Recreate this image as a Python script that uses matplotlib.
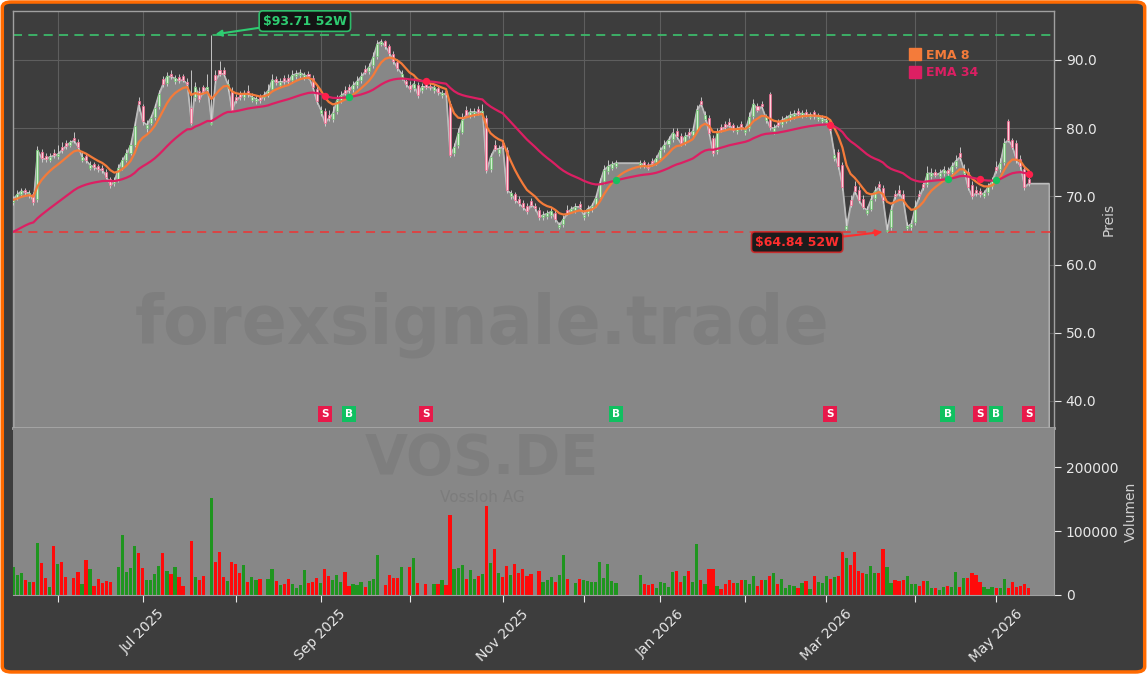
import numpy as np
import matplotlib
matplotlib.use("Agg")
import matplotlib.pyplot as plt
from matplotlib.patches import FancyBboxPatch
from matplotlib.lines import Line2D
from matplotlib.ticker import FuncFormatter, FormatStrFormatter

# ---------------- data (daily bars, trading-day index) ----------------
closes = [
    69.6, 70.3, 70.8, 70.6, 70.5, 69.2, 76.8, 75.6, 75.5, 75.8,
    76.0, 76.2, 76.8, 77.4, 77.9, 78.2, 77.3, 75.8, 75.3, 74.6,
    74.3, 74.0, 73.9, 72.9, 71.7, 72.2, 74.2, 75.3, 76.3, 77.5,
    80.3, 83.5, 81.0, 80.5, 81.5, 83.0, 85.0, 86.5, 87.6, 87.6,
    87.3, 87.0, 87.1, 86.5, 80.8, 86.1, 84.3, 85.5, 86.0, 80.8,
    87.1, 88.0, 88.0, 86.5, 82.7, 84.1, 84.6, 85.1, 85.0, 84.6,
    84.3, 84.1, 84.9, 85.5, 87.1, 86.8, 86.8, 86.9, 86.9, 87.8,
    88.0, 88.1, 87.8, 87.6, 86.1, 84.0, 82.7, 80.8, 81.5, 82.2,
    84.1, 84.8, 85.2, 85.6, 86.3, 86.9, 87.6, 88.3, 89.0, 90.5,
    92.4, 92.7, 92.0, 91.0, 89.8, 88.8, 88.0, 86.5, 85.8, 86.5,
    84.9, 86.1, 86.1, 86.0, 86.0, 85.3, 85.1, 85.0, 76.1, 77.2,
    79.3, 81.2, 82.0, 82.4, 82.4, 82.3, 82.5, 73.8, 75.8, 77.0,
    77.0, 77.3, 70.9, 70.5, 69.5, 69.0, 68.4, 67.8, 68.8, 68.3,
    67.0, 67.3, 67.5, 67.8, 66.7, 65.8, 66.7, 67.6, 68.2, 68.5,
    68.5, 67.3, 68.2, 68.6, 69.8, 72.0, 73.9, 74.4, 74.7, 74.9,
    74.9, 74.9, 74.9, 74.9, 74.9, 74.9, 74.6, 74.2, 74.9, 75.6,
    76.8, 77.6, 78.3, 79.3, 78.8, 77.8, 78.8, 79.0, 79.6, 82.7,
    83.6, 81.9, 79.3, 76.3, 79.3, 79.8, 80.2, 80.5, 79.8, 80.0,
    80.2, 79.8, 81.7, 83.6, 82.7, 83.2, 81.6, 80.2, 80.0, 80.5,
    81.2, 81.5, 81.9, 82.1, 82.1, 82.2, 82.0, 82.0, 81.8, 81.7,
    81.4, 81.2, 79.7, 76.1, 74.4, 71.4, 65.6, 68.8, 70.8, 69.5,
    68.5, 68.0, 69.5, 70.8, 71.4, 69.5, 65.1, 68.0, 70.0, 70.5,
    69.5, 65.6, 66.0, 68.5, 70.0, 71.4, 73.4, 73.4, 73.2, 73.4,
    73.9, 73.4, 74.4, 75.2, 75.8, 73.9, 71.4, 70.0, 70.5, 70.3,
    70.5, 71.4, 72.2, 73.9, 74.9, 77.8, 78.3, 77.3, 75.3, 74.4,
    71.4, 71.9, 71.9, 71.9, 71.9, 71.9, 71.9,
]
opens = [
    69.2, 69.8, 70.3, 70.9, 70.2, 70.3, 69.6, 76.5, 75.9, 75.4,
    76.4, 75.9, 77.3, 77.8, 77.6, 78.5, 78.0, 75.4, 75.9, 74.2,
    74.7, 74.4, 74.2, 73.6, 72.5, 71.9, 72.5, 74.3, 75.4, 76.4,
    77.6, 84.0, 83.3, 80.0, 80.8, 81.6, 83.2, 87.2, 86.6, 88.0,
    86.9, 87.5, 87.6, 86.8, 83.0, 84.5, 85.5, 86.0, 85.7, 80.6,
    87.8, 88.6, 88.5, 85.9, 85.5, 84.5, 85.0, 84.5, 85.4, 84.2,
    84.0, 84.5, 84.6, 84.9, 85.8, 87.2, 86.4, 87.3, 87.3, 87.0,
    87.6, 87.8, 87.4, 88.0, 87.4, 85.8, 82.2, 82.5, 82.0, 81.3,
    82.5, 84.1, 85.6, 86.0, 85.7, 86.3, 87.0, 88.7, 88.4, 89.2,
    90.6, 92.4, 92.8, 92.0, 90.9, 89.7, 87.5, 86.9, 86.4, 85.9,
    86.3, 85.6, 86.5, 86.2, 85.6, 85.9, 84.8, 85.4, 83.5, 76.3,
    77.5, 79.5, 82.6, 81.9, 82.0, 82.8, 82.0, 81.5, 74.0, 77.6,
    76.3, 77.8, 76.8, 70.0, 70.3, 69.6, 69.0, 68.6, 69.3, 68.6,
    68.0, 67.0, 67.1, 67.3, 67.5, 65.5, 65.9, 68.0, 67.9, 68.0,
    68.9, 67.0, 67.5, 68.1, 68.8, 69.9, 72.2, 73.7, 74.2, 74.5,
    74.9, 74.9, 74.9, 74.9, 74.9, 74.6, 75.0, 74.7, 75.2, 75.0,
    75.7, 76.9, 77.7, 78.4, 79.6, 78.9, 77.9, 79.5, 79.0, 79.8,
    84.0, 81.4, 81.5, 78.5, 76.6, 80.2, 80.6, 80.9, 80.4, 79.6,
    80.6, 79.4, 80.0, 81.8, 83.3, 83.5, 81.2, 85.0, 79.6, 80.9,
    80.6, 81.1, 81.5, 81.8, 82.5, 81.9, 82.4, 81.7, 82.3, 81.4,
    81.1, 80.9, 81.0, 75.6, 76.5, 74.6, 65.2, 69.4, 71.5, 71.0,
    69.6, 67.6, 68.2, 69.7, 71.8, 71.2, 64.9, 65.5, 70.4, 71.0,
    70.3, 65.3, 65.5, 66.2, 70.4, 71.8, 71.8, 73.0, 73.6, 73.0,
    73.4, 73.9, 73.6, 74.5, 76.3, 73.5, 73.6, 71.6, 71.0, 70.8,
    70.1, 70.6, 71.5, 74.3, 74.0, 75.0, 81.0, 78.2, 77.8, 75.5,
    74.0, 72.6, 71.9, 71.9, 71.9, 71.9, 71.9,
]
highs = [
    70.1, 70.9, 71.2, 71.3, 70.9, 70.7, 77.4, 77.0, 76.3, 76.4,
    76.9, 77.5, 78.0, 78.2, 78.3, 79.5, 78.4, 76.6, 76.3, 75.2,
    75.0, 74.8, 74.6, 74.0, 72.9, 72.8, 74.8, 75.8, 76.9, 78.3,
    81.0, 84.5, 83.6, 81.2, 82.0, 83.5, 85.6, 87.6, 88.2, 88.5,
    87.8, 87.9, 88.0, 87.3, 88.5, 86.8, 86.0, 86.4, 88.0, 93.71,
    88.5, 89.8, 89.0, 87.2, 86.0, 85.0, 85.5, 85.6, 86.3, 85.1,
    84.8, 85.0, 85.4, 86.5, 88.0, 87.6, 87.4, 87.8, 88.0, 88.6,
    88.5, 88.7, 88.2, 88.4, 87.8, 86.3, 83.2, 82.9, 82.6, 83.2,
    84.8, 85.5, 86.2, 86.5, 86.9, 87.6, 88.2, 89.2, 89.6, 91.2,
    92.9, 93.1, 93.0, 92.4, 91.3, 90.1, 88.5, 87.4, 86.9, 87.4,
    86.8, 86.6, 86.9, 86.6, 86.5, 86.4, 85.6, 85.8, 84.0, 77.8,
    80.0, 82.2, 83.2, 82.9, 83.0, 83.2, 83.5, 82.0, 76.4, 78.2,
    77.6, 78.3, 77.2, 71.0, 70.7, 70.0, 69.4, 69.0, 69.7, 69.0,
    68.4, 67.9, 68.0, 68.5, 68.0, 66.3, 67.3, 68.8, 68.6, 69.0,
    69.3, 67.8, 68.8, 69.1, 70.4, 72.7, 74.6, 75.4, 75.2, 75.3,
    74.9, 74.9, 74.9, 74.9, 74.9, 75.3, 75.4, 75.0, 75.6, 76.0,
    77.2, 78.2, 78.9, 80.0, 80.0, 79.3, 79.4, 80.0, 80.3, 83.4,
    84.5, 82.5, 82.0, 79.0, 80.0, 80.6, 81.0, 81.5, 80.8, 80.5,
    81.0, 80.3, 82.3, 84.3, 83.7, 84.0, 82.1, 85.3, 80.6, 81.3,
    81.8, 82.0, 82.5, 82.6, 82.9, 82.7, 82.8, 82.4, 82.6, 82.2,
    81.9, 81.6, 81.4, 77.0, 77.0, 75.0, 66.8, 70.2, 72.2, 71.5,
    70.2, 68.6, 70.3, 71.5, 72.3, 71.6, 66.0, 68.8, 71.0, 71.6,
    71.0, 66.3, 66.6, 69.4, 70.9, 72.3, 74.4, 74.1, 74.0, 74.0,
    74.4, 74.3, 75.0, 76.0, 77.2, 74.8, 74.2, 72.2, 71.5, 71.3,
    71.0, 72.0, 72.8, 75.2, 75.6, 78.5, 81.3, 78.6, 78.3, 76.0,
    74.5, 73.0, 71.9, 71.9, 71.9, 71.9, 71.9,
]
lows = [
    68.8, 69.5, 70.0, 70.2, 69.8, 68.8, 69.2, 75.1, 75.1, 75.0,
    75.6, 75.5, 76.4, 77.0, 77.2, 77.8, 76.9, 75.0, 74.9, 73.8,
    73.9, 73.6, 73.5, 72.5, 71.2, 71.5, 72.1, 73.9, 75.0, 76.0,
    77.2, 82.5, 80.5, 79.5, 80.4, 81.2, 82.8, 86.0, 86.2, 87.2,
    86.5, 86.6, 86.7, 86.0, 80.5, 84.0, 83.8, 85.0, 85.3, 80.5,
    86.6, 87.6, 87.6, 85.4, 82.3, 83.7, 84.2, 84.1, 84.6, 83.8,
    83.6, 83.7, 84.2, 84.5, 85.4, 86.4, 86.0, 86.5, 86.5, 86.6,
    87.2, 87.4, 87.0, 87.2, 85.7, 83.6, 81.8, 80.3, 81.1, 80.9,
    82.1, 83.7, 84.8, 85.2, 85.3, 85.9, 86.6, 87.9, 88.0, 88.8,
    90.2, 92.0, 91.6, 90.6, 89.4, 88.4, 87.1, 86.1, 85.3, 85.5,
    84.4, 85.2, 85.7, 85.6, 85.2, 84.9, 84.4, 84.6, 75.8, 75.9,
    77.1, 79.1, 81.6, 81.5, 81.6, 81.9, 81.6, 73.4, 73.6, 76.6,
    75.9, 76.9, 70.5, 69.6, 69.1, 68.6, 68.0, 67.4, 68.4, 67.9,
    66.6, 66.6, 66.7, 66.9, 66.3, 65.2, 65.5, 67.2, 67.5, 67.6,
    68.1, 66.6, 67.1, 67.7, 68.4, 69.5, 71.8, 73.3, 73.8, 74.1,
    74.9, 74.9, 74.9, 74.9, 74.9, 74.2, 74.2, 73.8, 74.5, 74.6,
    75.3, 76.5, 77.3, 78.0, 78.4, 77.4, 77.5, 78.6, 78.6, 79.4,
    83.2, 81.0, 78.9, 75.9, 76.2, 79.4, 79.8, 80.1, 79.4, 79.2,
    79.8, 79.0, 79.6, 81.4, 82.3, 82.8, 80.8, 79.8, 79.2, 80.1,
    80.2, 80.7, 81.1, 81.4, 81.7, 81.5, 81.6, 81.3, 81.4, 81.0,
    80.7, 80.5, 79.3, 75.2, 74.0, 71.0, 65.0, 68.4, 70.4, 69.1,
    68.1, 67.2, 67.8, 69.3, 71.0, 69.1, 64.84, 65.1, 69.6, 70.1,
    69.1, 65.0, 65.1, 65.8, 69.6, 71.0, 71.4, 72.6, 72.8, 72.6,
    73.0, 73.0, 73.2, 74.1, 75.4, 73.1, 71.0, 69.6, 70.1, 69.9,
    69.7, 70.2, 71.1, 73.5, 73.6, 74.6, 77.9, 76.9, 74.9, 74.0,
    71.0, 71.5, 71.9, 71.9, 71.9, 71.9, 71.9,
]
volumes_k = [
    43.7, 31, 34, 23, 20, 20, 81, 50, 26, 12,
    76, 48, 51, 28, 0, 26, 36, 17, 55, 40,
    14, 25, 19, 22, 20, 0, 44, 93, 36, 42,
    76, 65, 42, 23, 24, 33, 45, 65, 37, 33,
    43, 28, 14, 0, 84, 28, 24, 30, 0, 152,
    52, 67, 28, 22, 52, 49, 35, 47, 20, 28,
    23, 25, 0, 25, 40, 22, 15, 17, 25, 17,
    11, 15, 39, 19, 20, 26, 19, 40, 30, 24,
    31, 20, 36, 14, 17, 16, 20, 13, 22, 25,
    62, 0, 16, 31, 27, 27, 43.7, 0, 43.7, 57.8,
    18.7, 0, 17, 0, 17, 17, 23, 15.6, 125, 40.6,
    42, 47, 25, 39, 25, 30, 33, 139, 50, 72,
    34, 28, 45, 31, 48, 35, 40.6, 30, 33, 0,
    37.5, 20, 23, 28, 20, 31, 62.5, 25, 0, 18.7,
    25, 23, 22, 20, 20, 51.5, 26.5, 48, 22, 18.7,
    0, 0, 0, 0, 0, 31, 17, 15.6, 17, 11,
    20, 18.7, 12.5, 36, 37.5, 20, 30, 37.5, 20, 80,
    23, 17, 40.6, 40.6, 14, 9, 17, 23, 18.7, 18.7,
    23, 23, 17, 30, 14, 23, 23, 30, 34, 17,
    25, 11, 15.6, 14, 11, 18.7, 22, 9, 30, 20,
    18.7, 30, 25, 28, 30, 67, 58, 47, 67, 37.5,
    34, 33, 45, 34, 34, 72, 43.7, 18.7, 23, 22,
    23, 30, 17, 17, 14, 22, 22, 11, 11, 8,
    12.5, 14, 12.5, 36, 12.5, 26.5, 26.5, 34, 31, 20,
    12.5, 9, 12.5, 11, 11, 25, 11, 20, 12.5, 14,
    17, 11, 0, 0, 0, 0, 0,
]
last_bar = 251                      # last traded bar (EMAs end here)
ema8_seed, ema34_seed = 69.5, 64.8  # EMA values at the first visible bar
month_tick_idx = [11, 32, 55, 76, 98, 121, 141, 160, 181, 201, 223, 243]
month_tick_labels = ["", "Jul 2025", "", "Sep 2025", "", "Nov 2025",
                     "", "Jan 2026", "", "Mar 2026", "", "May 2026"]
sell_idx = [77, 102, 202, 239, 251]
buy_idx = [83, 149, 231, 243]
high_52w, high_52w_idx = 93.71, 49
low_52w, low_52w_idx = 64.84, 216
ticker, company, site = "VOS.DE", "Vossloh AG", "forexsignale.trade"

# ---------------- derived ----------------
c = np.array(closes); o = np.array(opens)
h = np.array(highs); l = np.array(lows)
vol = np.array(volumes_k) * 1000
x = np.arange(len(c))


def ema(vals, span, seed):
    a = 2.0 / (span + 1)
    out = [seed]
    for v in vals[1:]:
        out.append(a * v + (1 - a) * out[-1])
    return np.array(out)


ema8 = ema(c[:last_bar + 1], 8, ema8_seed)
ema34 = ema(c[:last_bar + 1], 34, ema34_seed)
xe = x[:last_bar + 1]

BG = "#3d3d3d"
FILL = "#878787"
TXT = "#e8e8e8"
C_EMA8 = "#f47b3a"
C_EMA34 = "#dc1f63"
C_GREEN = "#2ecc71"

fig = plt.figure(figsize=(11.47, 6.74), dpi=100)
fig.patch.set_facecolor("white")
fig.add_artist(FancyBboxPatch((0.002, 0.003), 0.996, 0.994,
                              boxstyle="round,pad=0,rounding_size=0.008",
                              transform=fig.transFigure, facecolor=BG,
                              edgecolor="#ff6a00", linewidth=2.5, zorder=-10))

W, H = 1147, 674
ax = fig.add_axes([13 / W, (H - 428) / H, (1054 - 13) / W, (428 - 11) / H])
axv = fig.add_axes([13 / W, (H - 595) / H, (1054 - 13) / W, (595 - 428) / H], sharex=ax)

YMIN, YMAX = 36.04, 97.18
ax.set_facecolor(BG)
ax.set_xlim(-0.05, 257.3)
ax.set_ylim(YMIN, YMAX)
ax.set_axisbelow(True)
ax.grid(True, color="#5e5e5e", linewidth=0.8)

ax.fill_between(x, c, YMIN, facecolor=FILL, edgecolor="#b4b4b4", linewidth=1.0, zorder=1)
ax.plot(x, c, color="#bdbdbd", linewidth=0.9, zorder=2)

ax.text(0.4505, 0.247, site, transform=ax.transAxes, fontsize=48, fontweight="bold",
        color="black", alpha=0.065, ha="center", va="center", zorder=2)

# candles
up = c >= o
bb = np.minimum(o, c)
bh = np.maximum(np.abs(c - o), 0.12)
tr = h > l
ax.vlines(x[tr], l[tr], h[tr], color="#d9d9d9", linewidth=0.6, zorder=3)
m = tr & up
ax.bar(x[m], bh[m], bottom=bb[m], width=0.5, color="#d2f2d2", edgecolor="#6cc46c",
       linewidth=0.5, zorder=4)
m = tr & ~up
ax.bar(x[m], bh[m], bottom=bb[m], width=0.5, color="#ffd2dc", edgecolor="#f0648c",
       linewidth=0.5, zorder=4)

# EMAs
ax.plot(xe, ema8, color=C_EMA8, linewidth=1.6, zorder=5)
ax.plot(xe, ema34, color=C_EMA34, linewidth=1.6, zorder=5)
ax.scatter(sell_idx, ema34[sell_idx], s=28, color="#ff1f4b", zorder=6, linewidths=0)
ax.scatter(buy_idx, ema34[buy_idx], s=28, color="#16c060", zorder=6, linewidths=0)

# 52W lines + annotations
ax.axhline(high_52w, color="#3cb96a", linestyle=(0, (5, 3.5)), linewidth=1.3, zorder=2.5)
ax.axhline(low_52w, color="#e04040", linestyle=(0, (5, 3.5)), linewidth=1.3, zorder=2.5)
ax.annotate("\\$%.2f 52W" % high_52w, xy=(high_52w_idx + 0.3, high_52w), xytext=(72.1, 95.7),
            color=C_GREEN, fontsize=9, fontweight="bold", ha="center", va="center", zorder=8,
            bbox=dict(boxstyle="round,pad=0.3", fc="#101010", ec=C_GREEN, lw=1.2, alpha=0.9),
            arrowprops=dict(arrowstyle="-|>", color=C_GREEN, lw=1.5, shrinkA=0, shrinkB=2))
ax.annotate("\\$%.2f 52W" % low_52w, xy=(low_52w_idx - 0.5, low_52w), xytext=(193.8, 63.3),
            color="#ff2e2e", fontsize=9, fontweight="bold", ha="center", va="center", zorder=8,
            bbox=dict(boxstyle="round,pad=0.3", fc="#101010", ec="#d02828", lw=1.2, alpha=0.9),
            arrowprops=dict(arrowstyle="-|>", color="#ff2e2e", lw=1.5, shrinkA=0, shrinkB=2))

# signal boxes
for i in sell_idx:
    ax.text(i, 38.1, "S", ha="center", va="center", color="white", fontsize=7.5,
            fontweight="bold", zorder=7,
            bbox=dict(boxstyle="square,pad=0.3", fc="#e8194a", ec="none"))
for i in buy_idx:
    ax.text(i, 38.1, "B", ha="center", va="center", color="white", fontsize=7.5,
            fontweight="bold", zorder=7,
            bbox=dict(boxstyle="square,pad=0.3", fc="#10c060", ec="none"))

# legend
handles = [Line2D([], [], marker="s", linestyle="None", color=C_EMA8, markersize=8),
           Line2D([], [], marker="s", linestyle="None", color=C_EMA34, markersize=8)]
leg = ax.legend(handles, ["EMA 8", "EMA 34"], loc="upper left", bbox_to_anchor=(0.862, 0.91),
                frameon=False, prop=dict(weight="bold", size=9), handlelength=0.7,
                handletextpad=0.55, labelspacing=0.35, borderpad=0, borderaxespad=0)
for t, col in zip(leg.get_texts(), [C_EMA8, C_EMA34]):
    t.set_color(col)

# price axis styling
ax.yaxis.tick_right()
ax.yaxis.set_label_position("right")
ax.set_yticks([40, 50, 60, 70, 80, 90])
ax.yaxis.set_major_formatter(FormatStrFormatter("%.1f"))
ax.set_ylabel("Preis", color="#d0d0d0", fontsize=10)
ax.tick_params(axis="y", colors=TXT, labelsize=10, length=5)
ax.tick_params(axis="x", bottom=False, labelbottom=False)
for s in ax.spines.values():
    s.set_color("#a0a0a0"); s.set_linewidth(1.0)
ax.spines["bottom"].set_linewidth(2.0)
ax.spines["bottom"].set_color("#a6a6a6")

# volume
axv.set_facecolor(FILL)
axv.set_ylim(0, 261000)
vcol = np.where(up, "#1f951f", "#ff0a0a")
axv.bar(x, vol, width=0.8, color=vcol, zorder=2)
axv.text(0.4505, 0.815, ticker, transform=axv.transAxes, fontsize=40, fontweight="bold",
         color="black", alpha=0.065, ha="center", va="center", zorder=1)
axv.text(0.4505, 0.585, company, transform=axv.transAxes, fontsize=11,
         color="black", alpha=0.08, ha="center", va="center", zorder=1)
axv.yaxis.tick_right()
axv.yaxis.set_label_position("right")
axv.set_yticks([0, 100000, 200000])
axv.yaxis.set_major_formatter(FuncFormatter(lambda v, p: "%d" % v))
axv.set_ylabel("Volumen", color="#d0d0d0", fontsize=10)
axv.set_xticks(month_tick_idx)
axv.set_xticklabels(month_tick_labels, rotation=45)
axv.tick_params(axis="both", colors=TXT, labelsize=10, length=5)
for s in axv.spines.values():
    s.set_color("#a0a0a0")
axv.spines["left"].set_visible(False)
axv.spines["top"].set_visible(False)
axv.set_xlim(-0.05, 257.3)

fig.savefig("out.png", dpi=100, facecolor=fig.get_facecolor())
